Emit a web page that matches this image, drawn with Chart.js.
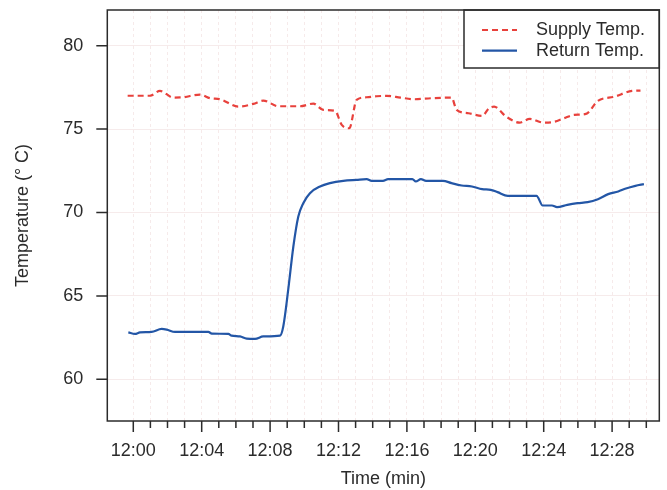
<!DOCTYPE html>
<html>
<head>
<meta charset="utf-8">
<script src="https://cdn.jsdelivr.net/npm/chart.js@4.4.1/dist/chart.umd.min.js"></script>
<style>
  html, body { margin: 0; padding: 0; background: #fff; }
</style>
</head>
<body>
<canvas id="temp-chart" width="667" height="490"></canvas>
<script>
// minutes after 12:00
const supplyTime = [-0.33, 0.98, 1.56, 2.34, 2.83, 3.9, 4.49, 5.07, 6.14, 7.02, 7.6, 8.48, 9.75, 10.53,
    11.11, 11.8, 12.19, 12.63, 13.06, 13.65, 14.23, 14.82, 15.62, 16.42, 17.42, 18.61, 18.91, 19.6,
    20.4, 20.8, 21.1, 21.8, 22.59, 23.19, 23.98, 24.58, 25.18, 25.78, 26.47, 27.17, 28.16, 29.16, 29.66];
const supplyTemp = [77.0, 77.0, 77.29, 76.89, 76.9, 77.07, 76.85, 76.79, 76.35, 76.51, 76.71, 76.37, 76.37, 76.53,
    76.15, 76.09, 75.25, 75.05, 76.75, 76.91, 76.97, 76.99, 76.89, 76.79, 76.85, 76.89, 76.15, 75.95,
    75.79, 76.25, 76.35, 75.75, 75.39, 75.61, 75.39, 75.43, 75.65, 75.85, 75.91, 76.69, 76.95, 77.29, 77.31];

const returnTime = [-0.29, 0.1, 0.39, 1.07, 1.66, 1.95, 2.44, 4.39, 4.59, 5.56, 5.75, 6.24, 6.63, 7.12, 7.6,
    8.58, 8.77, 9.06, 9.36, 9.65, 9.94, 10.33, 10.92, 11.5, 12.28, 13.06, 13.65, 13.94, 14.6, 14.9,
    16.32, 16.52, 16.82, 17.12, 18.11, 18.61, 19.2, 19.8, 20.4, 20.9, 21.3, 21.9, 23.58, 23.94, 24.48,
    24.78, 25.38, 25.98, 26.57, 27.17, 27.77, 28.36, 28.76, 29.36, 29.86];
const returnTemp = [62.81, 62.72, 62.81, 62.84, 63.02, 62.98, 62.84, 62.84, 62.74, 62.72, 62.62, 62.57, 62.44, 62.42, 62.57,
    62.62, 63.17, 65.37, 67.96, 69.76, 70.56, 71.16, 71.56, 71.76, 71.9, 71.96, 72.0, 71.9, 71.9, 72.0,
    72.0, 71.86, 72.0, 71.9, 71.9, 71.76, 71.62, 71.56, 71.4, 71.36, 71.22, 71.0, 71.0, 70.42, 70.42,
    70.32, 70.46, 70.56, 70.62, 70.8, 71.1, 71.26, 71.42, 71.6, 71.7];

const xTickMinutes = [];
for (let m = 0; m <= 30; m++) xTickMinutes.push(m);
const yTicks = [60, 65, 70, 75, 80];

const FONT = 'Liberation Sans, Arial, Helvetica, sans-serif';
const INK = '#2b2b2b';

function clock_label(m) {
    const h = 12 + Math.floor(m / 60);
    return h + ':' + String(m % 60).padStart(2, '0');
}

function to_points(ts, vs) {
    return ts.map((t, i) => ({ x: t, y: vs[i] }));
}

// frame, tick marks and the legend box in the top right corner
const framePlugin = {
    id: 'frame',
    afterDraw(chart) {
        const { ctx, chartArea: a, scales: { x, y } } = chart;
        ctx.save();
        ctx.strokeStyle = INK;
        ctx.lineWidth = 1.5;
        ctx.beginPath();
        xTickMinutes.forEach(m => {
            const px = x.getPixelForValue(m);
            ctx.moveTo(px, a.bottom);
            ctx.lineTo(px, a.bottom + (m % 4 === 0 ? 11 : 7));
        });
        yTicks.forEach(v => {
            const py = y.getPixelForValue(v);
            ctx.moveTo(a.left, py);
            ctx.lineTo(a.left - 11, py);
        });
        ctx.stroke();

        // legend
        const lx = 464, ly = a.top, lw = a.right - 464, lh = 58;
        ctx.fillStyle = '#fff';
        ctx.fillRect(lx, ly, lw, lh);
        ctx.strokeRect(lx, ly, lw, lh);
        ctx.font = '18px ' + FONT;
        ctx.textBaseline = 'middle';
        ctx.textAlign = 'left';
        chart.data.datasets.forEach((ds, i) => {
            const rowY = ly + 20 + i * 20.6;
            ctx.beginPath();
            ctx.strokeStyle = ds.borderColor;
            ctx.lineWidth = ds.borderWidth;
            ctx.setLineDash(ds.borderDash || []);
            ctx.moveTo(482, rowY);
            ctx.lineTo(517, rowY);
            ctx.stroke();
            ctx.setLineDash([]);
            ctx.fillStyle = INK;
            ctx.fillText(ds.label, 536, rowY);
        });

        ctx.strokeStyle = INK;
        ctx.lineWidth = 1.5;
        ctx.strokeRect(a.left, a.top, a.right - a.left, a.bottom - a.top);
        ctx.restore();
    }
};

new Chart(document.getElementById('temp-chart'), {
    type: 'line',
    data: {
        datasets: [{
            label: 'Supply Temp.',
            data: to_points(supplyTime, supplyTemp),
            borderColor: '#e8413c',
            borderWidth: 2.2,
            borderDash: [6, 4],
            pointRadius: 0,
            cubicInterpolationMode: 'monotone',
            fill: false
        }, {
            label: 'Return Temp.',
            data: to_points(returnTime, returnTemp),
            borderColor: '#2356a6',
            borderWidth: 2.2,
            pointRadius: 0,
            cubicInterpolationMode: 'monotone',
            fill: false
        }]
    },
    options: {
        responsive: false,
        devicePixelRatio: 1,
        animation: false,
        layout: { padding: { top: 10, right: 7.7, left: 0, bottom: 0 } },
        plugins: { legend: { display: false }, tooltip: { enabled: false } },
        scales: {
            x: {
                type: 'linear',
                min: -1.52,
                max: 30.76,
                afterBuildTicks: s => { s.ticks = xTickMinutes.map(v => ({ value: v })); },
                afterFit: s => { s.height = 69; s.paddingLeft = 0; s.paddingRight = 0; },
                border: { display: false, dash: [3, 3] },
                grid: { color: 'rgba(226,185,185,0.3)', lineWidth: 1, drawTicks: false },
                ticks: {
                    autoSkip: false,
                    maxRotation: 0,
                    padding: 19,
                    color: INK,
                    font: { family: FONT, size: 18 },
                    callback: v => (v % 4 === 0 ? clock_label(v) : '')
                },
                title: {
                    display: true,
                    text: 'Time (min)',
                    color: INK,
                    font: { family: FONT, size: 18 },
                    padding: { top: 0, bottom: 0 }
                }
            },
            y: {
                min: 57.5,
                max: 82.14,
                afterBuildTicks: s => { s.ticks = yTicks.map(v => ({ value: v })); },
                afterFit: s => { s.width = 107.3; s.paddingTop = 0; s.paddingBottom = 0; },
                border: { display: false },
                grid: { color: 'rgba(236,210,210,0.45)', lineWidth: 1, drawTicks: false },
                ticks: {
                    padding: 24,
                    color: INK,
                    font: { family: FONT, size: 18 }
                },
                title: {
                    display: true,
                    text: 'Temperature (° C)',
                    color: INK,
                    font: { family: FONT, size: 18 },
                    padding: { top: 12, bottom: 0 }
                }
            }
        }
    },
    plugins: [framePlugin]
});
</script>
</body>
</html>
